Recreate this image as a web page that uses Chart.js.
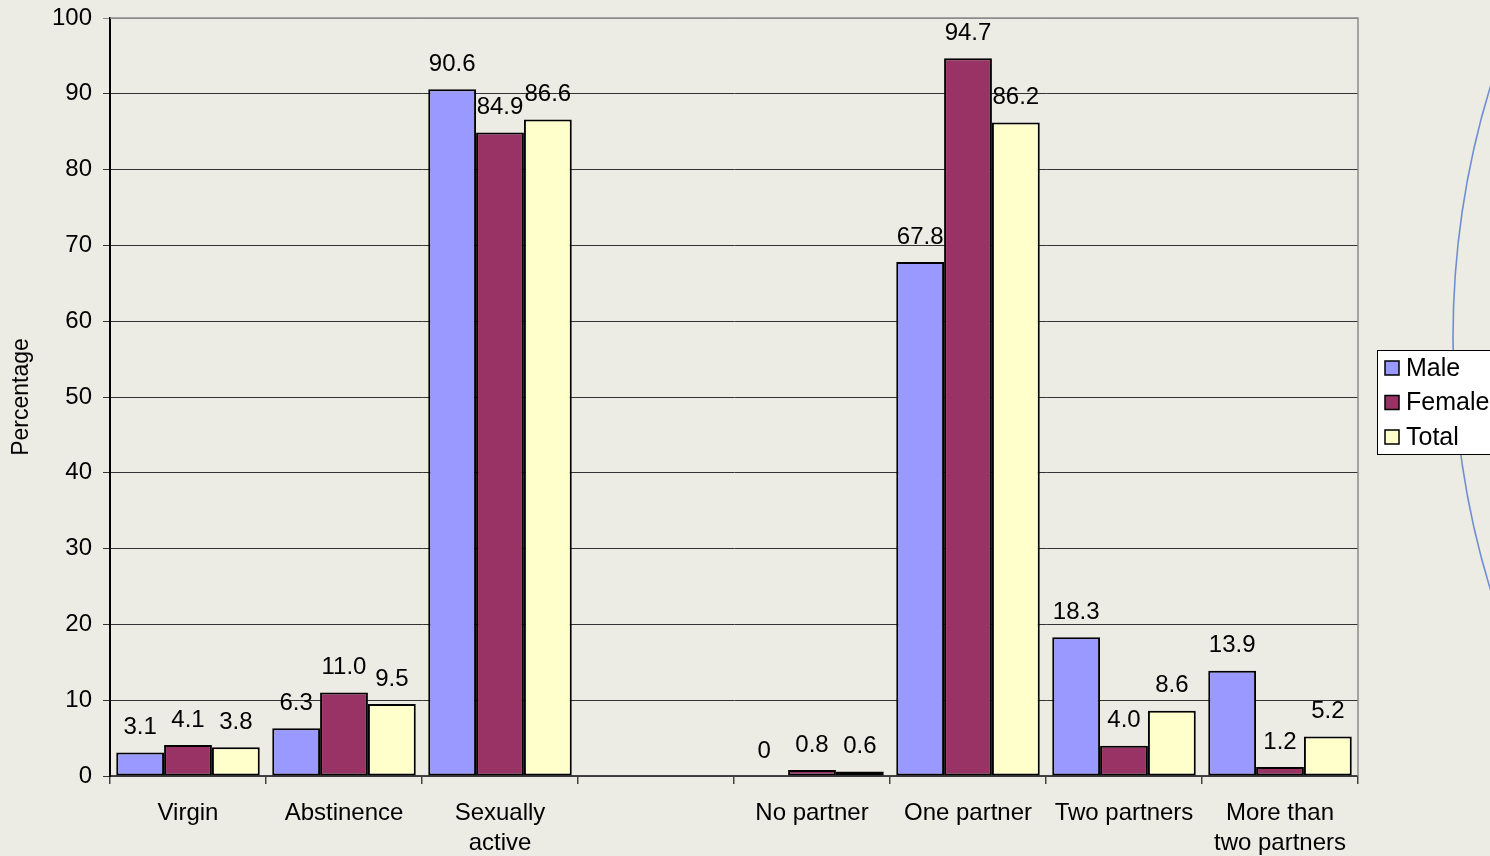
<!DOCTYPE html>
<html>
<head>
<meta charset="utf-8">
<script src="https://cdn.jsdelivr.net/npm/chart.js@4.4.1/dist/chart.umd.min.js"></script>
<style>
  html, body { margin: 0; padding: 0; background: #ecebe4; overflow: hidden; }
  #wrap { width: 1490px; height: 856px; position: relative; }
</style>
</head>
<body>
<div id="wrap"><canvas id="chart" width="1490" height="856"></canvas></div>
<script>
// categories (index 3 is the empty gap in the original)
const categories = ['Virgin', 'Abstinence', ['Sexually', 'active'], '', 'No partner', 'One partner', 'Two partners', ['More than', 'two partners']];
const maleValues   = [3.1, 6.3, 90.6, null, 0,   67.8, 18.3, 13.9];
const femaleValues = [4.1, 11.0, 84.9, null, 0.8, 94.7, 4.0,  1.2];
const totalValues  = [3.8, 9.5, 86.6, null, 0.6, 86.2, 8.6,  5.2];
const yTicks = [0, 10, 20, 30, 40, 50, 60, 70, 80, 90, 100];

const BG = '#ecebe4';
const FONT = '"Liberation Sans", Arial, Helvetica, sans-serif';

// background, plot frame, decorative arc
const backdrop = {
  id: 'backdrop',
  beforeDraw(chart) {
    const ctx = chart.ctx;
    ctx.save();
    ctx.fillStyle = BG;
    ctx.fillRect(0, 0, chart.width, chart.height);
    ctx.restore();
  },
  afterDraw(chart) {
    const ctx = chart.ctx;
    const a = chart.chartArea;
    ctx.save();
    // right / top frame in gray
    ctx.strokeStyle = '#8c8c8c';
    ctx.lineWidth = 1.5;
    ctx.beginPath();
    ctx.moveTo(a.left, a.top);
    ctx.lineTo(a.right, a.top);
    ctx.lineTo(a.right, a.bottom);
    ctx.stroke();
    // the slide's blue arc on the right
    ctx.strokeStyle = '#6f8fd2';
    ctx.lineWidth = 1.6;
    ctx.beginPath();
    ctx.arc(2316, 338, 863, Math.PI * 0.88, Math.PI * 1.12);
    ctx.stroke();
    ctx.restore();
  }
};

// value labels above each bar
const valueLabels = {
  id: 'valueLabels',
  afterDatasetsDraw(chart) {
    const ctx = chart.ctx;
    ctx.save();
    ctx.font = '24px ' + FONT;
    ctx.fillStyle = '#000';
    ctx.textAlign = 'center';
    ctx.textBaseline = 'middle';
    chart.data.datasets.forEach((ds, i) => {
      const meta = chart.getDatasetMeta(i);
      meta.data.forEach((bar, j) => {
        const v = ds.data[j];
        if (v === null || v === undefined) return;
        const txt = v === 0 ? '0' : v.toFixed(1);
        ctx.fillText(txt, bar.x, bar.y - 25);
      });
    });
    ctx.restore();
  }
};

// boxed legend on the right, clipped by the window edge
const boxLegend = {
  id: 'boxLegend',
  afterDraw(chart) {
    const ctx = chart.ctx;
    const x0 = 1377, y0 = 350, w = 130, h = 105;
    ctx.save();
    ctx.fillStyle = '#fff';
    ctx.fillRect(x0, y0, w, h);
    ctx.strokeStyle = '#000';
    ctx.lineWidth = 1;
    ctx.strokeRect(x0 + 0.5, y0 + 0.5, w, h - 1);
    ctx.font = '25px ' + FONT;
    ctx.textBaseline = 'middle';
    chart.data.datasets.forEach((ds, i) => {
      const cy = y0 + 18 + i * 34.5;
      ctx.fillStyle = ds.backgroundColor;
      ctx.fillRect(x0 + 8, cy - 7, 14, 14);
      ctx.strokeStyle = '#000';
      ctx.lineWidth = 1.5;
      ctx.strokeRect(x0 + 8, cy - 7, 14, 14);
      ctx.fillStyle = '#000';
      ctx.fillText(ds.label, x0 + 29, cy + 1);
    });
    ctx.restore();
  }
};

const makeSet = (label, data, color) => ({
  label, data,
  backgroundColor: color,
  borderColor: '#000',
  borderWidth: 2,
  borderSkipped: false,
  categoryPercentage: 0.92,
  barPercentage: 1.0
});

new Chart(document.getElementById('chart'), {
  type: 'bar',
  data: {
    labels: categories,
    datasets: [
      makeSet('Male', maleValues, '#9999ff'),
      makeSet('Female', femaleValues, '#993366'),
      makeSet('Total', totalValues, '#ffffcc')
    ]
  },
  options: {
    responsive: false,
    animation: false,
    layout: { padding: { top: 18, right: 132, left: 0, bottom: 0 } },
    plugins: { legend: { display: false }, tooltip: { enabled: false } },
    scales: {
      x: {
        grid: { display: true, drawOnChartArea: false, drawTicks: true, tickLength: 8, color: '#444', lineWidth: 1.5 },
        border: { display: true, color: '#444', width: 1.5 },
        ticks: { color: '#000', font: { family: FONT, size: 24, lineHeight: 1.25 }, padding: 14, maxRotation: 0, autoSkip: false },
        afterFit(scale) { scale.height = 80; scale.paddingLeft = 0; scale.paddingRight = 0; }
      },
      y: {
        min: 0, max: 100,
        afterBuildTicks(scale) { scale.ticks = yTicks.map(v => ({ value: v })); },
        grid: {
          color: ctx => (ctx.tick && ctx.tick.value === 100) ? '#8c8c8c' : '#333',
          lineWidth: 1, tickLength: 7
        },
        border: { display: true, color: '#000', width: 2 },
        ticks: { color: '#000', font: { family: FONT, size: 24 }, padding: 11 },
        title: { display: true, text: 'Percentage', color: '#000', font: { family: FONT, size: 23 }, padding: { top: 8, bottom: 0 } },
        afterFit(scale) { scale.width = 110; scale.paddingTop = 0; scale.paddingBottom = 0; }
      }
    }
  },
  plugins: [backdrop, valueLabels, boxLegend]
});
</script>
</body>
</html>
